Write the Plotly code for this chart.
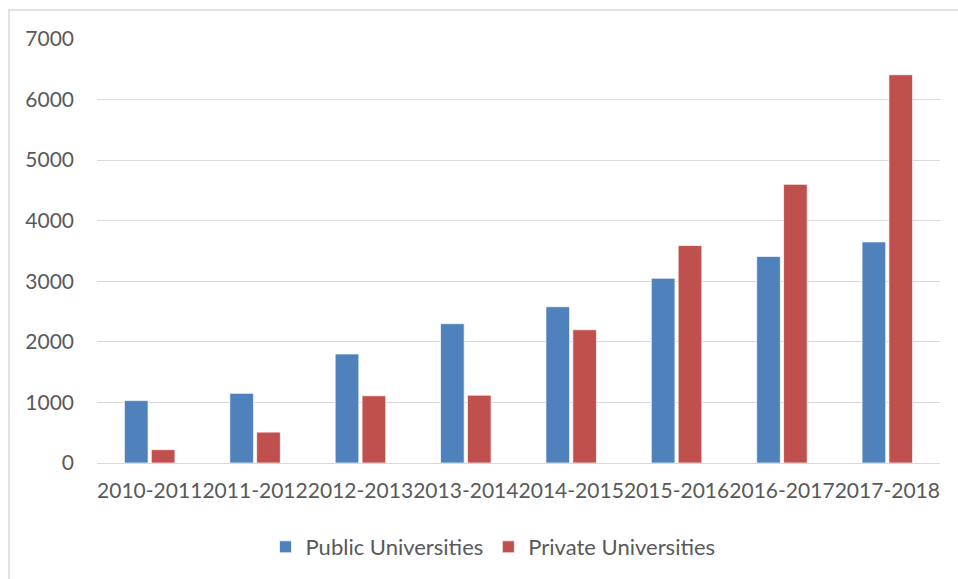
import plotly.graph_objects as go

categories = ["2010-2011", "2011-2012", "2012-2013", "2013-2014",
              "2014-2015", "2015-2016", "2016-2017", "2017-2018"]
public_vals = [1030, 1150, 1800, 2300, 2580, 3050, 3410, 3650]
private_vals = [220, 510, 1110, 1120, 2200, 3590, 4600, 6410]
y_ticks = [0, 1000, 2000, 3000, 4000, 5000, 6000, 7000]

W, H = 958, 579
L, R, T, B = 97, 18, 39, 116
pw, ph = W - L - R, H - T - B

FONT = "Lato, 'Open Sans', sans-serif"
TXT = "#595959"

fig = go.Figure()
fig.add_trace(go.Bar(x=categories, y=public_vals, name="Public Universities",
                     marker=dict(color="#4F81BD", line=dict(color="#FFFFFF", width=0.7))))
fig.add_trace(go.Bar(x=categories, y=private_vals, name="Private Universities",
                     marker=dict(color="#C0504D", line=dict(color="#FFFFFF", width=0.7))))

fig.update_layout(
    width=W, height=H,
    margin=dict(l=L, r=R, t=T, b=B, autoexpand=False),
    paper_bgcolor="white", plot_bgcolor="white",
    barmode="group", bargap=0.49, bargroupgap=0.12,
    font=dict(family=FONT, size=21, color=TXT),
    showlegend=True,
    legend=dict(orientation="h", x=(493 - L) / pw, xanchor="center",
                y=-(547 - (T + ph)) / ph, yanchor="middle",
                font=dict(family=FONT, size=22, color=TXT),
                itemwidth=30, traceorder="normal"),
    xaxis=dict(showgrid=False, showline=False, ticks="", tickangle=0,
               tickfont=dict(family=FONT, size=21, color=TXT),
               ticklabelstandoff=13),
    yaxis=dict(range=[0, 7000], tickvals=y_ticks, showgrid=True,
               gridcolor="#D9D9D9", gridwidth=1.3, zeroline=True,
               zerolinecolor="#D9D9D9", zerolinewidth=1.3, showline=False,
               ticks="", tickfont=dict(family=FONT, size=21, color=TXT),
               ticklabelstandoff=22),
    shapes=[dict(type="rect", xref="paper", yref="paper",
                 x0=(9 - L) / pw, x1=(W + 20 - L) / pw,
                 y0=-(H + 20 - (T + ph)) / ph, y1=1 + (T - 10) / ph,
                 line=dict(color="#D9D9D9", width=1.5), fillcolor="rgba(0,0,0,0)",
                 layer="below")],
)

fig.write_html("out.html")
